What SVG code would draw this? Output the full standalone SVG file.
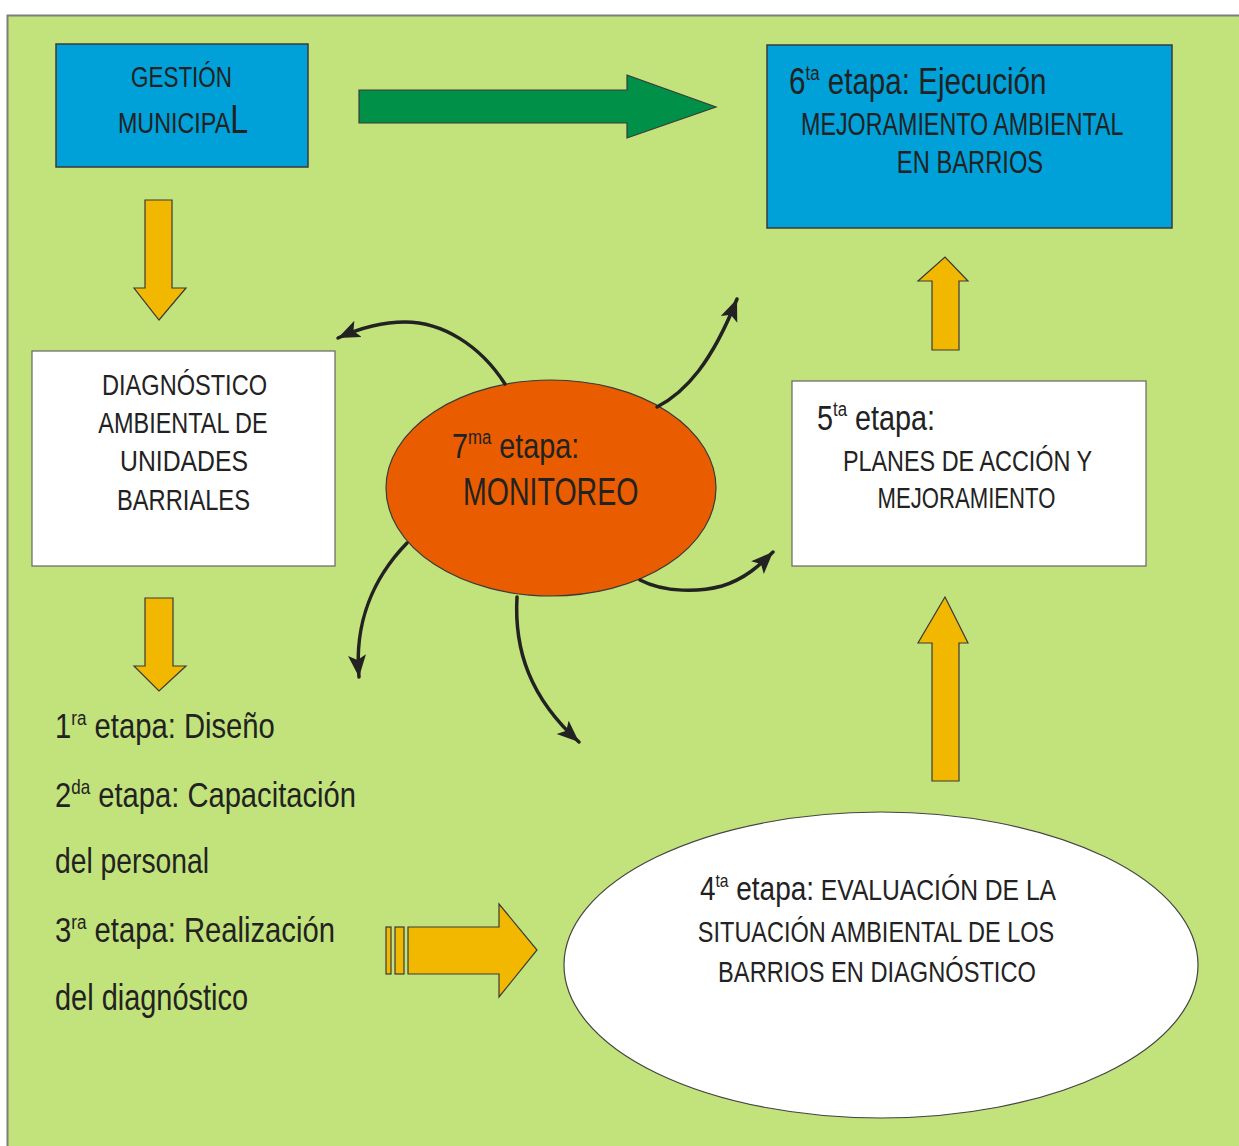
<svg xmlns="http://www.w3.org/2000/svg" width="1239" height="1146" viewBox="0 0 1239 1146">
<style>
text{font-family:"Liberation Sans",Arial,sans-serif;fill:#222;}
.c{text-anchor:middle;}
.box{stroke:#3a3a3a;stroke-width:1.5;}
.blue{fill:#00a0d8;}
.white{fill:#ffffff;stroke:#666;stroke-width:1.2;}
.yarrow{fill:#f2b800;stroke:#3a3a3a;stroke-width:1.2;}
.garrow{fill:#009048;stroke:#3a3a3a;stroke-width:1.2;}
.curve{fill:none;stroke:#222;stroke-width:3.5;stroke-linecap:round;marker-end:url(#head);}
</style>
<defs>
<marker id="head" markerUnits="userSpaceOnUse" markerWidth="24" markerHeight="20" refX="22" refY="9" orient="auto" viewBox="0 0 24 20">
<path d="M0,0 L22,9 L0,18 L5,9 z" fill="#222"/>
</marker>
</defs>
<rect x="7.5" y="15.5" width="1240" height="1140" fill="#c2e27b" stroke="#7d7d7d" stroke-width="2"/>

<g id="gestion">
<rect class="box blue" x="56" y="44" width="252" height="123"/>
<text class="c" transform="translate(181.5,87) scale(0.774,1)" font-size="29">GESTIÓN</text>
<text class="c" transform="translate(183,133) scale(0.805,1)" font-size="29">MUNICIPA<tspan font-size="40">L</tspan></text>
</g>

<g id="ejecucion">
<rect class="box blue" x="767" y="45" width="405" height="183"/>
<text transform="translate(789,94) scale(0.80,1)" font-size="37">6<tspan font-size="21" dy="-14">ta</tspan><tspan dy="14"> etapa: Ejecución</tspan></text>
<text transform="translate(801,135) scale(0.728,1)" font-size="32">MEJORAMIENTO AMBIENTAL</text>
<text class="c" transform="translate(970,173) scale(0.742,1)" font-size="32">EN BARRIOS</text>
</g>

<g id="diagnostico">
<rect class="white" x="32" y="351" width="303" height="215"/>
<text class="c" transform="translate(184.5,395) scale(0.786,1)" font-size="30">DIAGNÓSTICO</text>
<text class="c" transform="translate(183,433) scale(0.782,1)" font-size="30">AMBIENTAL DE</text>
<text class="c" transform="translate(184,471) scale(0.826,1)" font-size="30">UNIDADES</text>
<text class="c" transform="translate(183.5,510) scale(0.79,1)" font-size="30">BARRIALES</text>
</g>

<g id="monitoreo">
<ellipse cx="551" cy="488" rx="165" ry="108" fill="#e95d00" stroke="#3a3a3a" stroke-width="1.2"/>
<text transform="translate(452,458) scale(0.80,1)" font-size="36">7<tspan font-size="21" dy="-14">ma</tspan><tspan dy="14"> etapa:</tspan></text>
<text transform="translate(463,505) scale(0.751,1)" font-size="38">MONITOREO</text>
</g>

<g id="planes">
<rect class="white" x="792" y="381" width="354" height="185"/>
<text transform="translate(817,430) scale(0.80,1)" font-size="36">5<tspan font-size="21" dy="-14">ta</tspan><tspan dy="14"> etapa:</tspan></text>
<text class="c" transform="translate(967.5,471) scale(0.807,1)" font-size="29">PLANES DE ACCIÓN Y</text>
<text class="c" transform="translate(966.5,508) scale(0.763,1)" font-size="29">MEJORAMIENTO</text>
</g>

<g id="etapas">
<text transform="translate(55,738) scale(0.812,1)" font-size="36">1<tspan font-size="21" dy="-13">ra</tspan><tspan dy="13"> etapa: Diseño</tspan></text>
<text transform="translate(55,807) scale(0.81,1)" font-size="36">2<tspan font-size="21" dy="-13">da</tspan><tspan dy="13"> etapa: Capacitación</tspan></text>
<text transform="translate(55,873) scale(0.785,1)" font-size="36">del personal</text>
<text transform="translate(55,942) scale(0.812,1)" font-size="36">3<tspan font-size="21" dy="-13">ra</tspan><tspan dy="13"> etapa: Realización</tspan></text>
<text transform="translate(55,1010) scale(0.804,1)" font-size="36">del diagnóstico</text>
</g>

<g id="evaluacion">
<ellipse cx="881" cy="965" rx="317" ry="153" fill="#ffffff" stroke="#444" stroke-width="1.2"/>
<text class="c" transform="translate(878,900) scale(0.822,1)" font-size="30"><tspan font-size="34">4</tspan><tspan font-size="19" dy="-13">ta</tspan><tspan font-size="34" dy="13"> etapa:</tspan> EVALUACIÓN DE LA</text>
<text class="c" transform="translate(876,942) scale(0.783,1)" font-size="30">SITUACIÓN AMBIENTAL DE LOS</text>
<text class="c" transform="translate(877,982) scale(0.788,1)" font-size="30">BARRIOS EN DIAGNÓSTICO</text>
</g>

<g id="connectors">
<path class="garrow" d="M359,90 L627,90 L627,75 L716,107 L627,138 L627,123 L359,123 z"/>
<path class="yarrow" d="M145,200 L172,200 L172,288 L186,288 L159,320 L134,288 L145,288 z"/>
<path class="yarrow" d="M145,598 L173,598 L173,666 L186,666 L159,691 L134,666 L145,666 z"/>
<path class="yarrow" d="M932,350 L959,350 L959,281 L968,281 L945,257 L918,281 L932,281 z"/>
<path class="yarrow" d="M932,781 L959,781 L959,643 L968,643 L945,597 L918,643 L932,643 z"/>
<rect class="yarrow" x="386" y="927" width="5" height="47"/>
<rect class="yarrow" x="395" y="927" width="9" height="47"/>
<path class="yarrow" d="M408,927 L499,927 L499,904 L537,950 L499,997 L499,974 L408,974 z"/>
<path class="curve" d="M505,384 C480,345 442,322 405,322 C380,322 360,328 338,338"/>
<path class="curve" d="M657,407 C686,392 712,362 737,299"/>
<path class="curve" d="M640,580 C665,593 700,592 722,586 C745,579 760,565 773,552"/>
<path class="curve" d="M517,597 C514,650 530,698 579,742"/>
<path class="curve" d="M407,543 C374,577 354,622 359,677"/>
</g>
</svg>
